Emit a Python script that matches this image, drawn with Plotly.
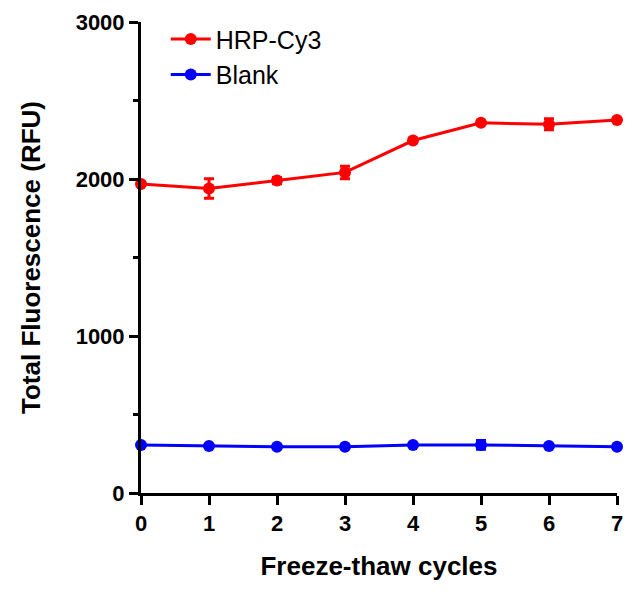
import plotly.graph_objects as go

cycles = [0, 1, 2, 3, 4, 5, 6, 7]
hrp = [1968, 1940, 1990, 2042, 2245, 2358, 2348, 2376]
hrp_err = [10, 62, 20, 40, 10, 10, 35, 10]
blank = [306, 300, 294, 294, 306, 306, 300, 294]
blank_err = [5, 5, 5, 5, 5, 28, 5, 5]
y_ticks = [0, 1000, 2000, 3000]
y_minor = [500, 1500, 2500]

font_family = "Liberation Sans, Arial, sans-serif"

fig = go.Figure()
fig.add_trace(go.Scatter(
    x=cycles, y=hrp, name="HRP-Cy3", mode="lines+markers",
    line=dict(color="#ff0000", width=3),
    marker=dict(color="#ff0000", size=12),
    error_y=dict(type="data", array=hrp_err, color="#ff0000", thickness=3, width=5),
    cliponaxis=False,
))
fig.add_trace(go.Scatter(
    x=cycles, y=blank, name="Blank", mode="lines+markers",
    line=dict(color="#0000ff", width=3),
    marker=dict(color="#0000ff", size=12),
    error_y=dict(type="data", array=blank_err, color="#0000ff", thickness=3, width=5),
    cliponaxis=False,
))

fig.update_layout(
    width=633, height=592,
    margin=dict(l=141, r=10, t=19, b=99),
    plot_bgcolor="white", paper_bgcolor="white",
    font=dict(family=font_family, color="black"),
    showlegend=True,
    legend=dict(x=0.052, y=1.012, xanchor="left", yanchor="top",
                font=dict(size=25, family=font_family, color="black"),
                bgcolor="rgba(0,0,0,0)", tracegroupgap=0, itemwidth=40),
    xaxis=dict(
        range=[0, 7], tickvals=cycles, showline=True, linecolor="black", linewidth=3,
        ticks="outside", ticklen=9, tickwidth=3, tickcolor="black",
        showgrid=False, zeroline=False,
        tickfont=dict(size=22, weight="bold", family=font_family),
        title=dict(text="Freeze-thaw cycles", font=dict(size=26, weight="bold", family=font_family), standoff=22),
    ),
    yaxis=dict(
        range=[0, 3000], tickvals=y_ticks, showline=True, linecolor="black", linewidth=3,
        ticks="outside", ticklen=9, tickwidth=3, tickcolor="black",
        minor=dict(tickvals=y_minor, ticks="outside", ticklen=5, tickwidth=3, tickcolor="black", showgrid=False),
        showgrid=False, zeroline=False,
        tickfont=dict(size=22, weight="bold", family=font_family),
        title=dict(text="Total Fluorescence (RFU)", font=dict(size=26, weight="bold", family=font_family), standoff=28),
    ),
)

fig.write_html("out.html")
